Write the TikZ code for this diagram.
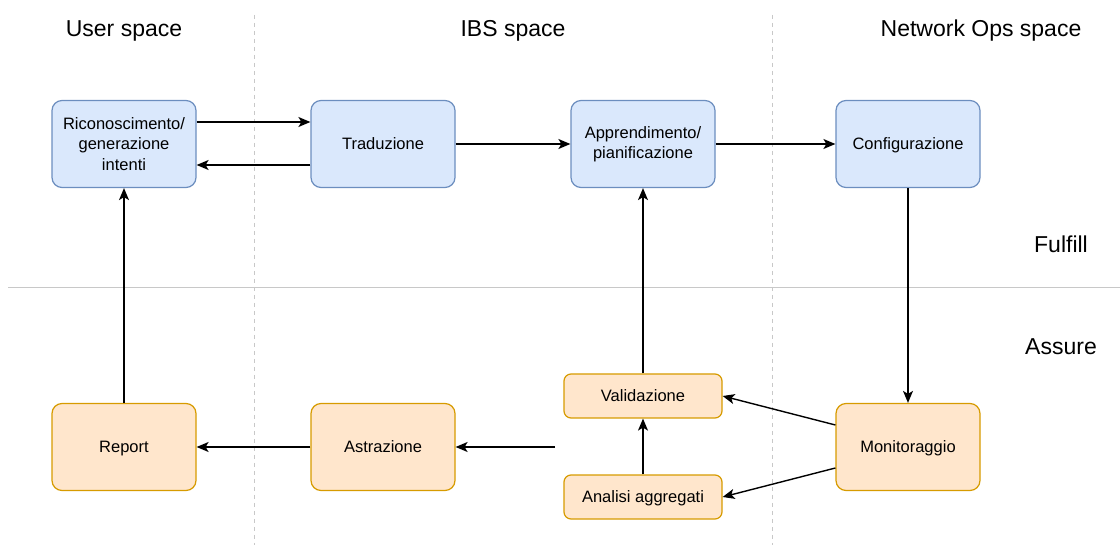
\documentclass[tikz,border=0pt]{standalone}
\usepackage{fontspec}
\setmainfont{Liberation Sans}
\usetikzlibrary{arrows.meta}
\definecolor{bluefill}{HTML}{DAE8FC}
\definecolor{bluedraw}{HTML}{6C8EBF}
\definecolor{orangefill}{HTML}{FFE6CC}
\definecolor{orangedraw}{HTML}{D79B00}
\definecolor{sepgray}{HTML}{C8C8C8}
\tikzset{
  box/.style={rounded corners=10pt, line width=1.2pt, align=center,
    inner sep=2pt, font=\fontsize{16.5}{20.5}\selectfont},
  bluebox/.style={box, fill=bluefill, draw=bluedraw},
  orangebox/.style={box, fill=orangefill, draw=orangedraw},
  bigbox/.style={minimum width=144pt, minimum height=87pt},
  smallbox/.style={minimum width=158pt, minimum height=44pt, rounded corners=7pt},
  oneline/.style={text height=11.8pt, text depth=0pt},
  conn/.style={line width=1.4pt, -{Stealth[length=12pt, width=10pt, inset=3pt]}},
  title/.style={font=\fontsize{23}{26}\selectfont, text height=16.5pt, text depth=0pt},
  sepline/.style={sepgray, line width=1pt}
}
\begin{document}
\begin{tikzpicture}[x=1pt, y=-1pt]
\useasboundingbox (0,0) rectangle (1120,545);

% swimlane separators
\draw[sepline, dash pattern=on 4pt off 4pt] (254,15) -- (254,545);
\draw[sepline, dash pattern=on 4pt off 4pt] (772,15) -- (772,545);
\draw[sepline] (8,288) -- (1120,288);

% lane and phase titles
\node[title] (tuser) at (124,28) {User space};
\node[title] (tibs) at (513,28) {IBS space};
\node[title] (tnet) at (981,28) {Network Ops space};
\node[title] (tful) at (1061,244) {Fulfill};
\node[title] (tass) at (1061,346) {Assure};

% fulfil row
\node[bluebox, bigbox] (ric) at (124,144) {Riconoscimento/\\generazione\\intenti};
\node[bluebox, bigbox, oneline] (trad) at (383,144) {Traduzione};
\node[bluebox, bigbox] (appr) at (643,144) {Apprendimento/\\pianificazione};
\node[bluebox, bigbox, oneline] (conf) at (908,144) {Configurazione};

% assure row
\node[orangebox, bigbox, oneline] (rep) at (124,447) {Report};
\node[orangebox, bigbox, oneline] (astr) at (383,447) {Astrazione};
\node[orangebox, bigbox, oneline] (mon) at (908,447) {Monitoraggio};
\node[orangebox, smallbox, oneline] (val) at (643,396) {Validazione};
\node[orangebox, smallbox, oneline] (ana) at (643,497) {Analisi aggregati};
\coordinate (astrin) at (555,447);

% connectors
\draw[conn] (ric.east |- 0,122) -- (trad.west |- 0,122);
\draw[conn] (trad.west |- 0,165) -- (ric.east |- 0,165);
\draw[conn] (trad) -- (appr);
\draw[conn] (appr) -- (conf);
\draw[conn] (conf) -- (mon);
\draw[conn] (mon.west |- 0,425) -- (val.east);
\draw[conn] (mon.west |- 0,468) -- (ana.east);
\draw[conn] (ana) -- (val);
\draw[conn] (val) -- (appr);
\draw[conn] (astrin) -- (astr.east);
\draw[conn] (astr) -- (rep);
\draw[conn] (rep) -- (ric);
\end{tikzpicture}
\end{document}
